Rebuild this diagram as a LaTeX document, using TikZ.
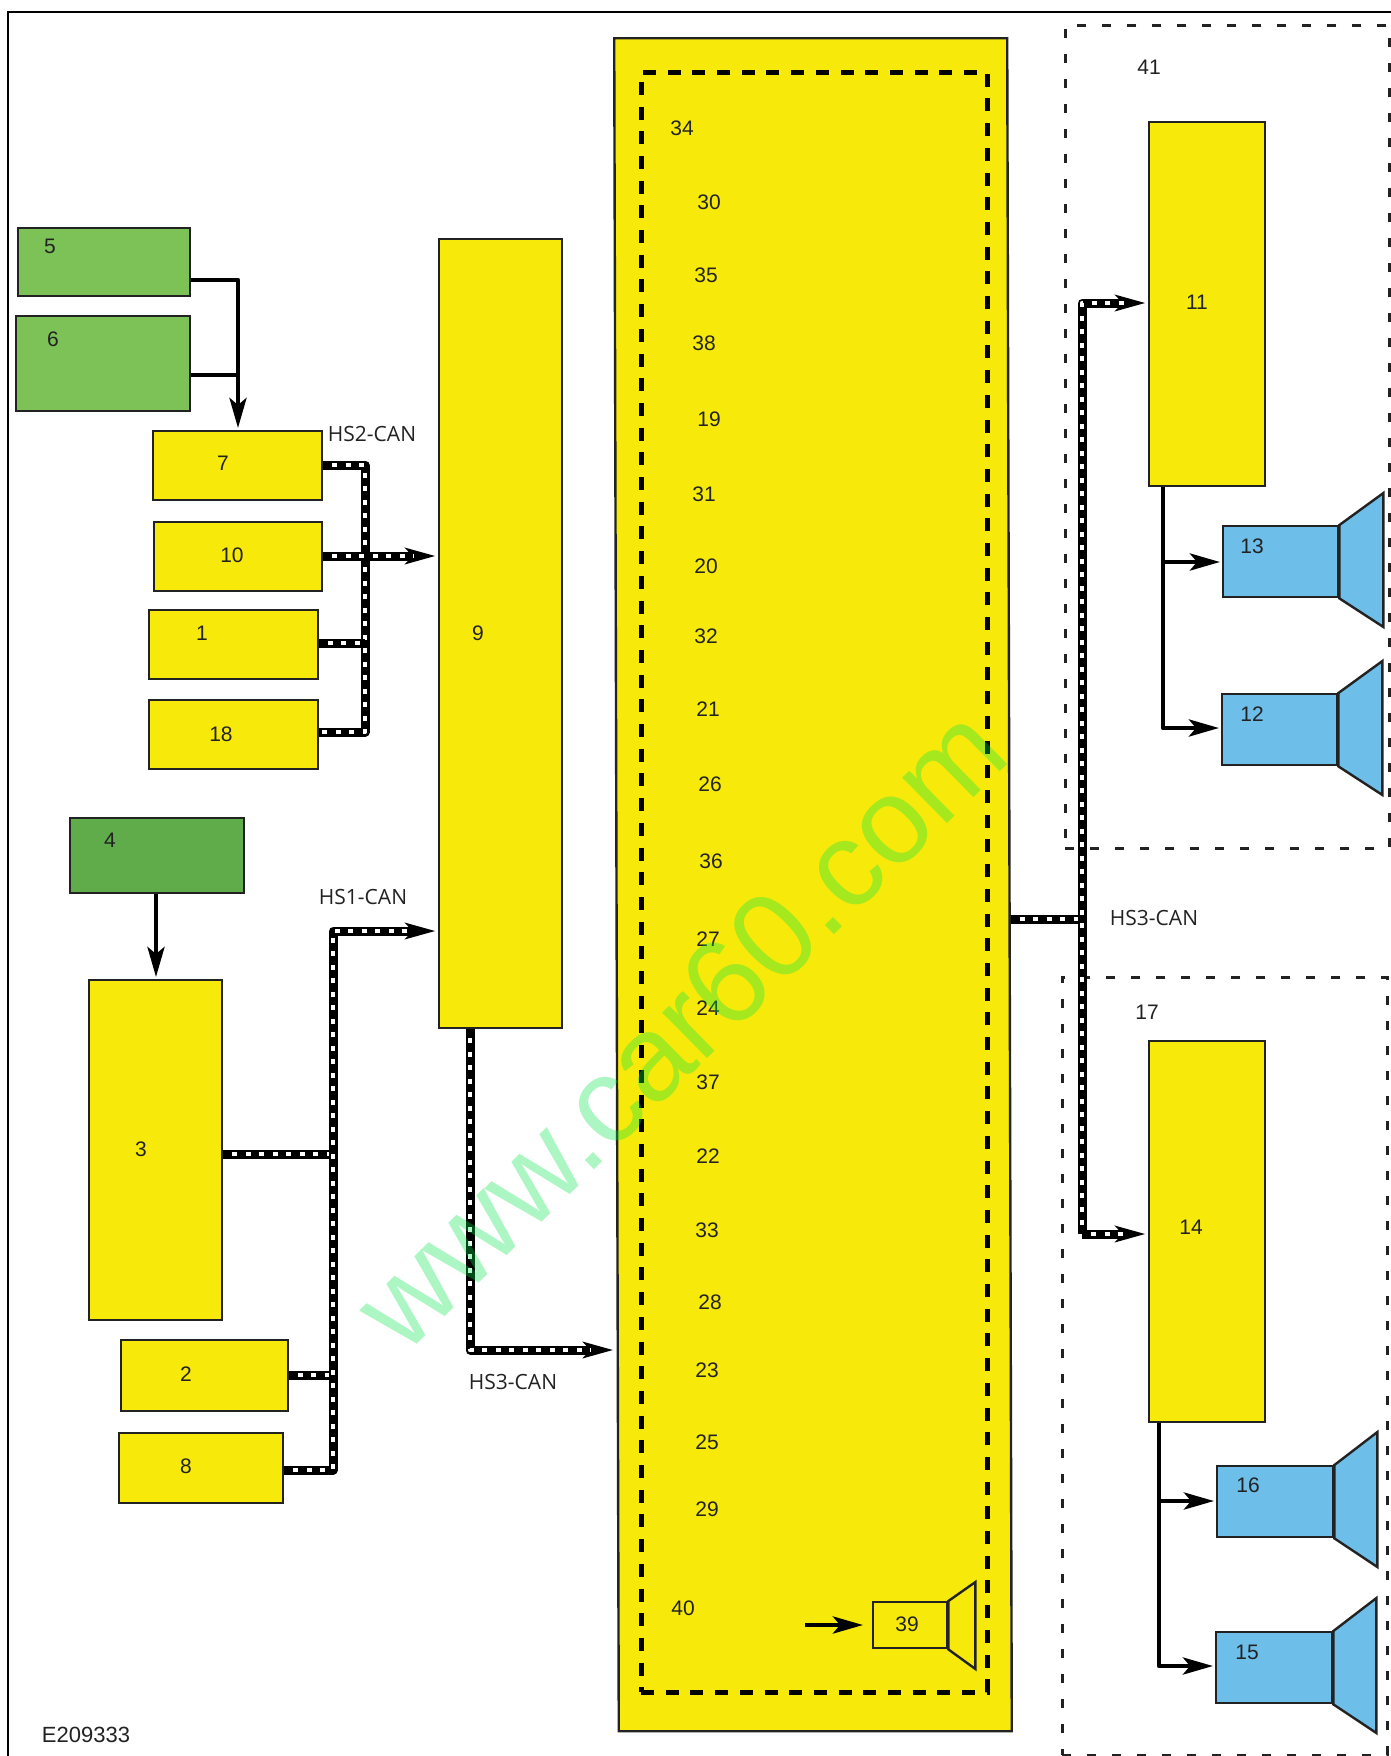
\documentclass[tikz,border=0pt]{standalone}
\usepackage{fontspec}
\setmainfont{Liberation Sans}
\newfontfamily\canfont{Open Sans}
\usetikzlibrary{arrows.meta}
\definecolor{boxyellow}{RGB}{247, 234, 10}
\definecolor{ctrlgreen}{RGB}{125, 194, 86}
\definecolor{ampgreen}{RGB}{96, 172, 74}
\definecolor{spkblue}{RGB}{110, 190, 234}
\definecolor{inkgrey}{RGB}{34, 34, 34}
\definecolor{markgreen}{RGB}{0, 230, 70}
\tikzset{
  x=1pt, y=-1pt,
  unitbox/.style={draw=inkgrey, line width=2.4pt, anchor=north west, inner sep=0pt},
  yellowbox/.style={unitbox, fill=boxyellow},
  greenbox/.style={unitbox, fill=ctrlgreen},
  bluebox/.style={unitbox, fill=spkblue},
  cone/.style={draw=inkgrey, line width=2.4pt, line join=miter, fill=spkblue},
  numlabel/.style={text=inkgrey, font=\fontsize{21}{21}\selectfont, inner sep=0pt},
  canlabel/.style={text=inkgrey, font=\canfont\fontsize{21}{21}\selectfont, inner sep=0pt},
  zonebox/.style={draw=inkgrey, line width=2.6pt, dash pattern=on 9pt off 16pt, anchor=north west, inner sep=0pt},
  sigline/.style={line width=4.5pt, black, line join=round},
  sigarrow/.style={sigline, shorten >=2pt, -{Stealth[length=30pt,width=17pt,inset=7pt]}},
  busline/.style={line width=9pt, black, line join=round,
    postaction={draw, -, white, line width=4.5pt, dash pattern=on 5pt off 8.5pt, shorten <=9pt, shorten >=#1}},
  busline/.default=2pt,
  busarrow/.style={busline=24pt, shorten >=2pt, -{Stealth[length=30pt,width=16pt,inset=7pt]}},
}
\begin{document}
\begin{tikzpicture}
\useasboundingbox (0,0) rectangle (1391,1756);
\fill[white] (0,0) rectangle (1391,1756);

% Outer frame
\draw[line width=2pt, black] (8,1756) -- (8,12) -- (1391,12);

% Dashed zones
\node[zonebox, minimum width=324pt, minimum height=823pt] (zone41) at (1064,24) {};
\node[zonebox, minimum width=325pt, minimum height=778pt] (zone17) at (1061,976) {};

% Green units
\node[greenbox, minimum width=172pt, minimum height=68pt] (box5) at (17,226.5) {};
\node[greenbox, minimum width=174pt, minimum height=95pt] (box6) at (14.5,314.5) {};
\node[greenbox, fill=ampgreen, minimum width=174pt, minimum height=75pt] (box4) at (69,817) {};

% Left yellow units
\node[yellowbox, minimum width=169pt, minimum height=69pt] (box7) at (152,430) {};
\node[yellowbox, minimum width=168pt, minimum height=69pt] (box10) at (153,520.5) {};
\node[yellowbox, minimum width=169pt, minimum height=69pt] (box1) at (147.5,609) {};
\node[yellowbox, minimum width=169pt, minimum height=69pt] (box18) at (147.5,698.5) {};
\node[yellowbox, minimum width=133pt, minimum height=340pt] (box3) at (88,979) {};
\node[yellowbox, minimum width=167pt, minimum height=70.5pt] (box2) at (119.5,1339) {};
\node[yellowbox, minimum width=164.5pt, minimum height=69.5pt] (box8) at (117.5,1432) {};
\node[yellowbox, minimum width=123pt, minimum height=789.5pt] (box9) at (437.5,237.5) {};

% Large unit with its dashed border
\node[yellowbox, xslant=-0.0027, transform shape, minimum width=393pt, minimum height=1693pt] (box34) at (613,37) {};
\node[draw=black, line width=5pt, dash pattern=on 13pt off 11.7pt, anchor=north west, inner sep=0pt,
  minimum width=346pt, minimum height=1620pt] (inner34) at (638.5,69.5) {};

% Right yellow units
\node[yellowbox, minimum width=116pt, minimum height=364pt] (box11) at (1147.5,121) {};
\node[yellowbox, minimum width=116pt, minimum height=381pt] (box14) at (1147.5,1039.5) {};

% Speakers
\node[bluebox, minimum width=115pt, minimum height=71pt] (spk13) at (1222,525) {};
\node[bluebox, minimum width=115pt, minimum height=71pt] (spk12) at (1221,693) {};
\node[bluebox, minimum width=116pt, minimum height=71pt] (spk16) at (1216,1465) {};
\node[bluebox, minimum width=116pt, minimum height=71pt] (spk15) at (1215,1631) {};
\node[yellowbox, minimum width=74pt, minimum height=46pt] (spk39) at (872,1601) {};
\foreach \s in {spk13, spk12} {
  \draw[cone] (\s.north east) -- ++(44,-32) -- ++(0,134) -- (\s.south east) -- cycle;
}
\foreach \s in {spk16, spk15} {
  \draw[cone] (\s.north east) -- ++(43,-33) -- ++(0,135) -- (\s.south east) -- cycle;
}
\draw[cone, fill=boxyellow] (spk39.north east) -- ++(27,-19) -- ++(0,87) -- (spk39.south east) -- cycle;

% Plain signal lines
\coordinate (j5) at (238,280);
\coordinate (j6) at (238,375);
\draw[sigarrow] (j5 -| box5.east) -- (j5) -- (j5 |- box7.north);
\draw[sigline] (j6 -| box6.east) -- (j6);
\draw[sigarrow] (box4.south -| 156,0) -- (box3.north -| 156,0);
\coordinate (j11) at (1163,562);
\coordinate (j12) at (1163,728);
\draw[sigarrow] (j11 |- box11.south) -- (j12) -- (j12 -| spk12.west);
\draw[sigarrow] (j11) -- (j11 -| spk13.west);
\coordinate (j16) at (1159,1501);
\coordinate (j15) at (1159,1666);
\draw[sigarrow] (j16 |- box14.south) -- (j15) -- (j15 -| spk15.west);
\draw[sigarrow] (j16) -- (j16 -| spk16.west);
\coordinate (in39) at (805,1625);
\draw[sigarrow] (in39) -- (in39 -| 865,0);

% HS2 bus
\coordinate (hs2a) at (365,465);
\coordinate (hs2b) at (365,556);
\coordinate (hs2c) at (365,643);
\coordinate (hs2d) at (365,732);
\draw[busline] (hs2a -| box7.east) -- (hs2a) -- (hs2d) -- (hs2d -| box18.east);
\draw[busline] (hs2c -| box1.east) -- (hs2c);
\draw[busarrow] (hs2b -| box10.east) -- (hs2b -| box9.west);

% HS1 bus
\coordinate (hs1a) at (333,931);
\coordinate (hs1b) at (333,1154);
\coordinate (hs1c) at (333,1375);
\coordinate (hs1d) at (333,1470);
\draw[busline] (hs1b -| box3.east) -- (hs1b);
\draw[busline] (hs1c -| box2.east) -- (hs1c);
\draw[busarrow] (hs1d -| box8.east) -- (hs1d) -- (hs1a) -- (hs1a -| box9.west);

% HS3 bus
\coordinate (hs3a) at (470,1350);
\draw[busarrow] (hs3a |- box9.south) -- (hs3a) -- (hs3a -| box34.west);
\coordinate (hs3b) at (1082,303);
\coordinate (hs3c) at (1082,919);
\coordinate (hs3d) at (1082,1234);
\draw[busline] (hs3c -| box34.east) -- (hs3c);
\draw[busarrow] (hs3d) -- (hs3d -| box14.west);
\draw[busarrow] (hs3d) -- (hs3b) -- (hs3b -| box11.west);

% Numbers on the units
\foreach \n/\x/\y in {5/50/246, 6/53/339, 7/223/463, 10/232/555, 1/202/633, 18/221/734,
  9/478/633, 4/110/840, 3/141/1149, 2/186/1374, 8/186/1466, 11/1197/302, 14/1191/1227,
  13/1252/546, 12/1252/714, 16/1248/1485, 15/1247/1652, 41/1149/67, 17/1147/1012} {
  \node[numlabel] (num\n) at (\x,\y) {\n};
}
\foreach \n/\x/\y in {34/682/128, 30/709/202, 35/706/275, 38/704/343, 19/709/419, 31/704/494,
  20/706/566, 32/706/636, 21/708/709, 26/710/784, 36/711/861, 27/708/939, 24/708/1008,
  37/708/1082, 22/708/1156, 33/707/1230, 28/710/1302, 23/707/1370, 25/707/1442, 29/707/1509,
  40/683/1608, 39/907/1624} {
  \node[numlabel] (num\n) at (\x,\y) {\n};
}

% Bus names
\node[canlabel] (hs2name) at (372,434) {HS2-CAN};
\node[canlabel] (hs1name) at (363,897) {HS1-CAN};
\node[canlabel] (hs3name) at (513,1382) {HS3-CAN};
\node[canlabel] (hs3right) at (1154,918) {HS3-CAN};
\node[numlabel, font=\fontsize{22}{22}\selectfont] (figno) at (86,1735) {E209333};

% Watermark
\node[text=markgreen, text opacity=0.33, font=\fontsize{121}{121}\selectfont, rotate=44.5, inner sep=0pt] (mark) at (680,1028) {www.car60.com};
\end{tikzpicture}
\end{document}
